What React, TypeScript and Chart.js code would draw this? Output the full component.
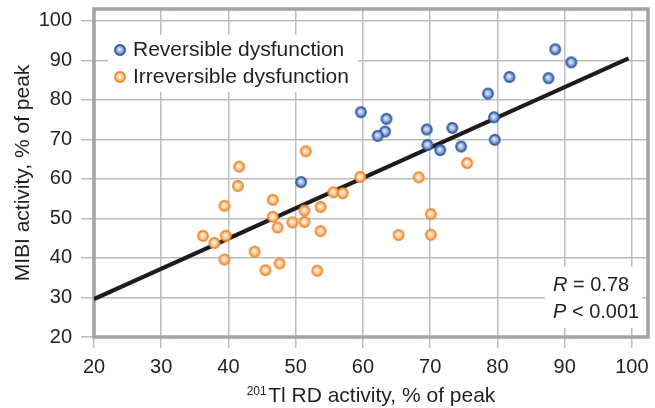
import React, { useEffect, useRef } from "react";
import { Chart, registerables } from "chart.js";

Chart.register(...registerables);

// ---- data ----
const reversibleX = [50.8, 59.7, 63.5, 63.3, 62.2, 69.5, 69.6, 71.5, 73.3, 74.6, 78.6, 79.5, 79.6, 81.8, 87.6, 88.6, 91.0];
const reversibleY = [59.2, 76.9, 75.2, 72.0, 70.9, 72.5, 68.6, 67.3, 72.9, 68.2, 81.6, 75.6, 69.9, 85.8, 85.5, 92.8, 89.5];

const irreversibleX = [51.5, 41.6, 41.4, 59.6, 68.3, 55.6, 57.0, 46.6, 39.4, 51.3, 53.7, 70.1, 46.6, 49.5, 51.3, 47.3, 53.7, 36.2, 39.6, 65.3, 70.1, 37.9, 43.9, 39.4, 47.6, 45.5, 53.2, 75.5];
const irreversibleY = [67.0, 63.1, 58.2, 60.5, 60.4, 56.6, 56.4, 54.7, 53.2, 52.0, 52.9, 51.1, 50.4, 49.0, 49.1, 47.7, 46.8, 45.6, 45.6, 45.8, 45.9, 43.8, 41.6, 39.6, 38.6, 36.9, 36.75, 64.0];

const fitX = [20, 99.5];
const fitY = [29.6, 90.5];

const seriesNames = ["Reversible dysfunction", "Irreversible dysfunction"];
const yTitle = "MIBI activity, % of peak";
const xTitleSup = "201";
const xTitleMain = "Tl RD activity, % of peak";
const statR = ["R", " = 0.78"];
const statP = ["P", " < 0.001"];

const X_MIN = 20;
const X_MAX = 102.4;
const Y_MIN = 20;
const Y_MAX = 103;
const STEP = 10;

const FONT = '"Liberation Sans", Arial, Helvetica, sans-serif';
const TEXT = "#231f20";
const GRID = "#bcbdbf";
const FRAME = "#a0a4a8";

function makeMarker(light: string, mid: string, edge: string, stroke: string) {
  const c = document.createElement("canvas");
  c.width = 14;
  c.height = 14;
  const g = c.getContext("2d")!;
  const grad = g.createRadialGradient(6.3, 6.3, 0, 7, 7, 5.6);
  grad.addColorStop(0, light);
  grad.addColorStop(0.45, mid);
  grad.addColorStop(1, edge);
  g.beginPath();
  g.arc(7, 7, 5.1, 0, Math.PI * 2);
  g.fillStyle = grad;
  g.fill();
  g.lineWidth = 1.6;
  g.strokeStyle = stroke;
  g.stroke();
  return c;
}

export default function App() {
  const ref = useRef<HTMLCanvasElement | null>(null);

  useEffect(() => {
    const canvas = ref.current;
    if (!canvas) return;
    const blue = makeMarker("#f4f6fb", "#a2b6e0", "#4069b8", "#2c59a4");
    const orange = makeMarker("#fffaf5", "#fbd0a6", "#f39f52", "#ee872a");

    const overlay = {
      id: "overlay",
      beforeDatasetsDraw(chart: any) {
        const ctx = chart.ctx as CanvasRenderingContext2D;
        const a = chart.chartArea;
        ctx.save();
        // legend box
        ctx.fillStyle = "#ffffff";
        ctx.fillRect(108, 35, 250, 57);
        // stats box
        ctx.fillRect(545, 267, 97, 61);
        // frame
        ctx.strokeStyle = FRAME;
        ctx.lineWidth = 3.5;
        ctx.strokeRect(a.left, a.top, a.right - a.left, a.bottom - a.top);
        // legend
        ctx.drawImage(blue, 120 - 7, 50 - 7);
        ctx.drawImage(orange, 120 - 7, 77 - 7);
        ctx.fillStyle = TEXT;
        ctx.font = `21px ${FONT}`;
        ctx.textBaseline = "middle";
        ctx.textAlign = "left";
        ctx.fillText(seriesNames[0], 133, 50);
        ctx.fillText(seriesNames[1], 133, 77);
        // stats
        const drawStat = (parts: string[], y: number) => {
          ctx.font = `italic 20px ${FONT}`;
          ctx.fillText(parts[0], 553, y);
          const w = ctx.measureText(parts[0]).width;
          ctx.font = `20px ${FONT}`;
          ctx.fillText(parts[1], 553 + w, y);
        };
        drawStat(statR, 285);
        drawStat(statP, 312);
        ctx.restore();
      },
      afterDraw(chart: any) {
        const ctx = chart.ctx as CanvasRenderingContext2D;
        const a = chart.chartArea;
        ctx.save();
        ctx.fillStyle = TEXT;
        // y title
        ctx.translate(23, (a.top + a.bottom) / 2);
        ctx.rotate(-Math.PI / 2);
        ctx.font = `21px ${FONT}`;
        ctx.textAlign = "center";
        ctx.textBaseline = "middle";
        ctx.fillText(yTitle, 0, 0);
        ctx.restore();
        // x title with superscript
        ctx.save();
        ctx.fillStyle = TEXT;
        ctx.textBaseline = "alphabetic";
        ctx.textAlign = "left";
        ctx.font = `12px ${FONT}`;
        const ws = ctx.measureText(xTitleSup).width;
        ctx.font = `21px ${FONT}`;
        const wm = ctx.measureText(xTitleMain).width;
        const total = ws + 1.5 + wm;
        const x0 = (a.left + a.right) / 2 - total / 2;
        const base = 401.5;
        ctx.font = `12px ${FONT}`;
        ctx.fillText(xTitleSup, x0, base - 6.5);
        ctx.font = `21px ${FONT}`;
        ctx.fillText(xTitleMain, x0 + ws + 1.5, base);
        ctx.restore();
      },
    };

    const chart = new Chart(canvas, {
      type: "scatter",
      data: {
        datasets: [
          {
            label: seriesNames[0],
            data: reversibleX.map((x, i) => ({ x, y: reversibleY[i] })),
            pointStyle: blue as any,
            pointRadius: 6,
            order: 0,
          },
          {
            label: seriesNames[1],
            data: irreversibleX.map((x, i) => ({ x, y: irreversibleY[i] })),
            pointStyle: orange as any,
            pointRadius: 6,
            order: 0,
          },
          {
            type: "line" as any,
            label: "fit",
            data: fitX.map((x, i) => ({ x, y: fitY[i] })),
            borderColor: "#1c1c1c",
            borderWidth: 4,
            pointRadius: 0,
            showLine: true,
            fill: false,
            order: 5,
          } as any,
        ],
      },
      options: {
        responsive: false,
        animation: false,
        devicePixelRatio: 1,
        events: [],
        layout: { padding: { left: 0, right: 3, top: 9, bottom: 0 } },
        plugins: {
          legend: { display: false },
          tooltip: { enabled: false },
          title: { display: false },
        },
        scales: {
          x: {
            type: "linear",
            min: X_MIN,
            max: X_MAX,
            afterFit: (s: any) => {
              s.height = 71;
              s.paddingLeft = 0;
              s.paddingRight = 0;
              s.paddingTop = 0;
              s.paddingBottom = 0;
            },
            ticks: {
              stepSize: STEP,
              includeBounds: false,
              padding: 7,
              color: TEXT,
              font: { size: 20, family: FONT },
              maxRotation: 0,
              autoSkip: false,
            },
            grid: { color: GRID, lineWidth: 1.5, tickLength: 11, drawTicks: true },
            border: { display: false },
          },
          y: {
            type: "linear",
            min: Y_MIN,
            max: Y_MAX,
            afterFit: (s: any) => {
              s.width = 94;
              s.paddingLeft = 0;
              s.paddingRight = 0;
              s.paddingTop = 0;
              s.paddingBottom = 0;
            },
            ticks: {
              stepSize: STEP,
              includeBounds: false,
              padding: 9,
              color: TEXT,
              font: { size: 20, family: FONT },
              autoSkip: false,
            },
            grid: { color: GRID, lineWidth: 1.5, tickLength: 13, drawTicks: true },
            border: { display: false },
          },
        },
      },
      plugins: [overlay],
    });

    return () => chart.destroy();
  }, []);

  return (
    <div style={{ position: "fixed", left: 0, top: 0, width: 655, height: 408, background: "#fff" }}>
      <canvas ref={ref} width={655} height={408} style={{ width: 655, height: 408, display: "block" }} />
    </div>
  );
}
